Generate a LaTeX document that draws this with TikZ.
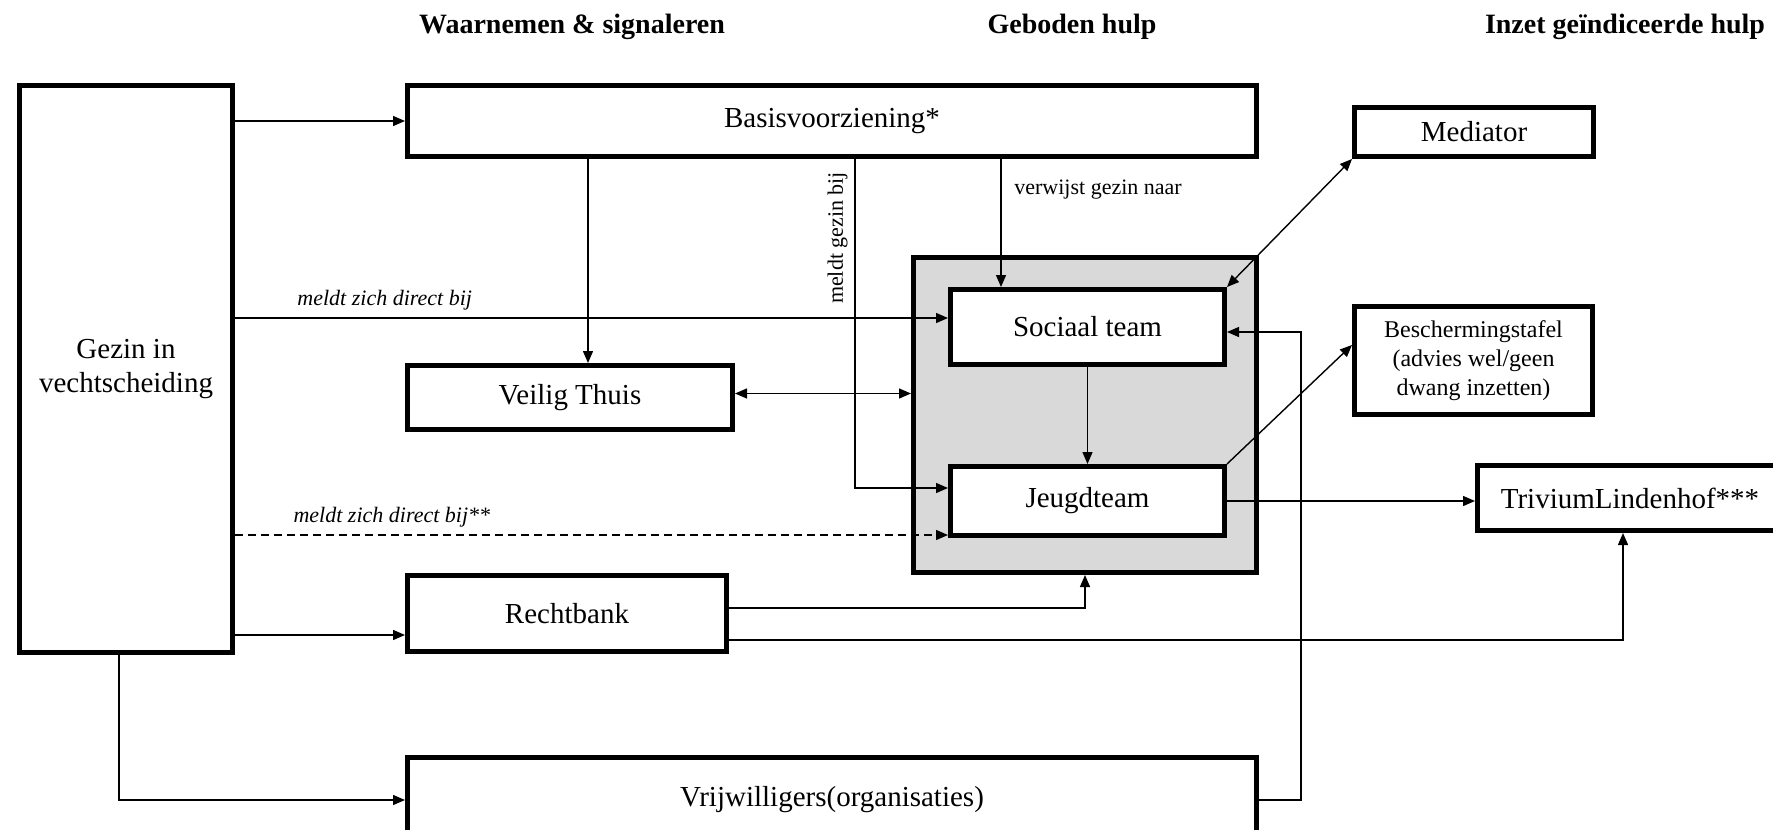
\documentclass[tikz,border=0pt]{standalone}
\usepackage{fontspec}
\setmainfont{Liberation Serif}
\usetikzlibrary{arrows.meta,positioning}

\tikzset{
  blok/.style={draw,line width=2.5pt,fill=white,inner sep=0pt,align=center,
    font=\fontsize{14.5}{17}\selectfont},
  kop/.style={font=\fontsize{14}{17}\selectfont\bfseries},
  pijl/.style={line width=0.7pt,-{Triangle[length=6pt,width=5pt]}},
  dubbel/.style={line width=0.7pt,{Triangle[length=6pt,width=5pt]}-{Triangle[length=6pt,width=5pt]}},
  tekst/.style={font=\fontsize{11}{13}\selectfont}
}

\begin{document}
\begin{tikzpicture}[x=0.5pt,y=-0.5pt]
\useasboundingbox (0,0) rectangle (1773,830);

\node[kop] (kop1) at (572,27) {Waarnemen \& signaleren};
\node[kop] (kop2) at (1072,27) {Geboden hulp};
\node[kop] (kop3) at (1625,27) {Inzet geïndiceerde hulp};

\node[blok,minimum width=106.5pt,minimum height=283.5pt] (gezin) at (126,369) {Gezin in\\vechtscheiding};
\node[blok,minimum width=424.5pt,minimum height=35.5pt] (basis) at (832,121) {Basisvoorziening*};
\node[blok,minimum width=119.5pt,minimum height=24.5pt] (mediator) at (1474,132) {Mediator};
\node[blok,fill=black!15,minimum width=171.5pt,minimum height=157.5pt] (groep) at (1085,415) {};
\node[blok,minimum width=137pt,minimum height=37.5pt] (sociaal) at (1087.5,327) {Sociaal team};
\node[blok,minimum width=137pt,minimum height=34.5pt] (jeugd) at (1087.5,501) {Jeugdteam};
\node[blok,minimum width=162.5pt,minimum height=32pt] (veilig) at (570,397.5) {Veilig Thuis};
\node[blok,minimum width=119pt,minimum height=54pt,font=\fontsize{12}{14.5}\selectfont] (bescherming) at (1473.5,360.5)
  {Beschermingstafel\\(advies wel/geen\\dwang inzetten)};
\node[blok,minimum width=164.5pt,minimum height=32.5pt] (trivium) at (1642,498) {TriviumLindenhof***\hspace{12pt}};
\node[blok,minimum width=159.5pt,minimum height=38pt] (rechtbank) at (567,613.5) {Rechtbank};
\node[blok,minimum width=424.5pt,minimum height=42.5pt] (vrijwilligers) at (832,800) {Vrijwilligers(organisaties)};

\draw[pijl] (gezin.east |- basis.west) -- (basis.west);
\draw[pijl] ([xshift=9pt]veilig.north |- basis.south) -- ([xshift=9pt]veilig.north);
\draw[pijl] ([xshift=11.5pt]basis.south) |- ([yshift=6.5pt]jeugd.west)
  node[tekst,pos=0.12,rotate=90,anchor=south] {meldt gezin bij};
\draw[pijl] ([xshift=-43.25pt]sociaal.north |- basis.south) -- ([xshift=-43.25pt]sociaal.north)
  node[tekst,pos=0.24,anchor=west,xshift=3pt] {verwijst gezin naar};
\draw[pijl] ([yshift=4.5pt]sociaal.west -| gezin.east) -- ([yshift=4.5pt]sociaal.west)
  node[tekst,pos=0.21,above,font=\fontsize{11}{13}\selectfont\itshape] {meldt zich direct bij};
\draw[dubbel] ([yshift=2pt]veilig.east) -- ([yshift=2pt]veilig.east -| groep.west);
\draw[pijl] (sociaal) -- (jeugd);
\draw[dubbel] (sociaal.north east) -- (mediator.south west);
\draw[pijl] (jeugd.north east) -- ([yshift=7.75pt]bescherming.west);
\draw[pijl,dash pattern=on 4pt off 2.5pt] ([yshift=-17pt]jeugd.west -| gezin.east) -- ([yshift=-17pt]jeugd.west)
  node[tekst,pos=0.22,above,font=\fontsize{11}{13}\selectfont\itshape] {meldt zich direct bij**};
\draw[pijl] (jeugd.east) -- (jeugd.east -| trivium.west);
\draw[pijl] ([yshift=2.75pt]rechtbank.east) -| (groep.south);
\draw[pijl] ([yshift=-13.25pt]rechtbank.east) -| ([xshift=-9.5pt]trivium.south);
\draw[pijl] ([yshift=-10.75pt]rechtbank.west -| gezin.east) -- ([yshift=-10.75pt]rechtbank.west);
\draw[pijl] ([xshift=-3.5pt]gezin.south) |- (vrijwilligers.west);
\draw[pijl] (vrijwilligers.east) -- ++(42,0) |- ([yshift=-2.5pt]sociaal.east);
\end{tikzpicture}
\end{document}
